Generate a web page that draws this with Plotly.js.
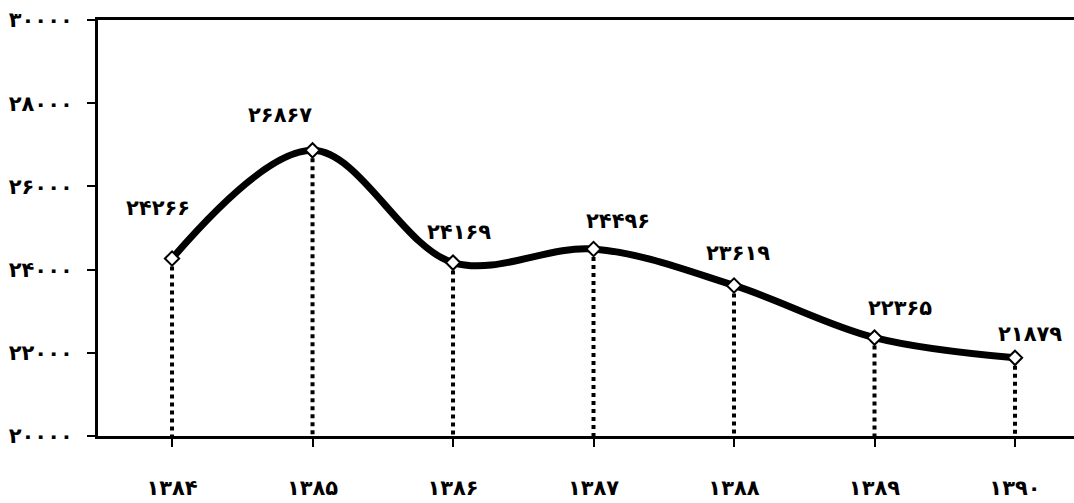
<!DOCTYPE html>
<html>
<head>
<meta charset="utf-8">
<script src="https://cdn.plot.ly/plotly-3.0.1.min.js"></script>
<style>
  html, body { margin: 0; padding: 0; background: #fff; }
  #chart { width: 1074px; height: 503px; }
</style>
</head>
<body>
<div id="chart"></div>
<script>
// Years (Solar Hijri) shown on the category axis
const years = ['۱۳۸۴', '۱۳۸۵', '۱۳۸۶', '۱۳۸۷', '۱۳۸۸', '۱۳۸۹', '۱۳۹۰'];
// Yearly values
const values = [24266, 26867, 24169, 24496, 23619, 22365, 21879];
// Value axis ticks
const yTicks = [20000, 22000, 24000, 26000, 28000, 30000];

// Pixel nudges for each value label (right, up)
const labelDx = [-14, -33, 6, 24, 4, 25, 15];
const labelDy = [51, 35, 31, 28, 32, 30, 24];

const faDigits = '۰۱۲۳۴۵۶۷۸۹';
const toFa = n => String(n).replace(/[0-9]/g, d => faDigits[+d]);

const idx = years.map((_, i) => i);
const font = 'DejaVu Sans, sans-serif';
const textFont = { family: font, size: 21, color: '#000', weight: 'bold' };

// Dotted drop lines from each point down to the baseline
const dropX = [], dropY = [];
idx.forEach(i => {
  dropX.push(i, i, null);
  dropY.push(values[i], yTicks[0], null);
});

const traces = [
  {
    x: dropX, y: dropY, type: 'scatter', mode: 'lines',
    line: { color: '#000', width: 4, dash: 'dot' },
    hoverinfo: 'skip', showlegend: false
  },
  {
    x: idx, y: values, type: 'scatter', mode: 'lines+markers',
    line: { color: '#000', width: 7, shape: 'spline', smoothing: 1 },
    marker: { symbol: 'diamond', size: 11, color: '#fff', line: { color: '#000', width: 2 } },
    showlegend: false, cliponaxis: false
  }
];

const annotations = idx.map(i => ({
  x: i, y: values[i], xref: 'x', yref: 'y',
  text: toFa(values[i]), showarrow: false,
  xshift: labelDx[i], yshift: labelDy[i],
  font: textFont
}));

const layout = {
  width: 1074, height: 503,
  margin: { l: 98, r: 0, t: 20, b: 67 },
  paper_bgcolor: '#fff', plot_bgcolor: '#fff',
  showlegend: false,
  xaxis: {
    range: [-0.527, 6.42],
    tickmode: 'array', tickvals: idx, ticktext: years,
    showgrid: false, zeroline: false,
    showline: true, linecolor: '#000', linewidth: 3,
    mirror: true,
    ticks: 'outside', ticklen: 8, tickwidth: 2, tickcolor: '#000',
    tickson: 'boundaries',
    ticklabelstandoff: 23,
    tickfont: textFont
  },
  yaxis: {
    range: [20000, 30000],
    tickmode: 'array', tickvals: yTicks, ticktext: yTicks.map(toFa),
    showgrid: false, zeroline: false,
    showline: true, linecolor: '#000', linewidth: 3,
    ticks: 'outside', ticklen: 8, tickwidth: 2, tickcolor: '#000',
    ticklabelstandoff: 10,
    tickfont: textFont
  },
  annotations: annotations
};

Plotly.newPlot('chart', traces, layout, { staticPlot: true, displayModeBar: false });
</script>
</body>
</html>
